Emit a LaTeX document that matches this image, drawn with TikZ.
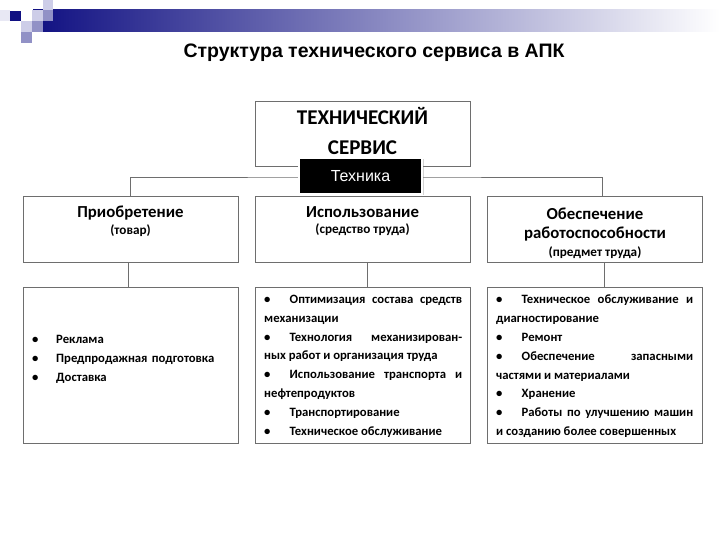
\documentclass[tikz,border=0pt]{standalone}
\usepackage{fontspec}
\setmainfont{Carlito}
\newfontfamily\arialfont{Liberation Sans}
\usetikzlibrary{positioning, shadows}

\definecolor{framegray}{RGB}{110,110,110}
\definecolor{decnavy}{RGB}{16,16,130}
\definecolor{declight}{RGB}{205,205,232}
\definecolor{decmid}{RGB}{145,145,198}
\definecolor{decpale}{RGB}{232,232,244}

\tikzset{
  boxframe/.style={draw=framegray, line width=0.8pt, minimum width=215pt, inner sep=0pt},
  headtext/.style={anchor=north, inner sep=0pt, align=center,
    font=\fontsize{16.8}{18.8}\selectfont\bfseries},
  listtext/.style={anchor=north west, inner sep=0pt, text width=198pt, align=justify,
    font=\fontsize{12.7}{18.8}\selectfont\bfseries},
  link/.style={draw=framegray, line width=0.8pt},
}
\newcommand{\bul}{\makebox[25.5pt][l]{\textbullet}}
\newcommand{\smallhead}[1]{{\fontsize{13.2}{14}\selectfont #1}}

\begin{document}
\begin{tikzpicture}[x=1pt, y=-1pt]
  \useasboundingbox (0,0) rectangle (720,540);

  % header band
  \shade[left color=decnavy, right color=white] (33,10) rectangle (720,32);
  \fill[decpale]  (0,10)  rectangle (10,21);
  \fill[decnavy]  (10,11) rectangle (21,21);
  \fill[declight] (43,0)  rectangle (53,10);
  \fill[declight] (32,10) rectangle (43,21);
  \fill[decmid]   (43,10) rectangle (53,21);
  \fill[declight] (21,21) rectangle (32,32);
  \fill[decmid]   (32,21) rectangle (43,32);
  \fill[decmid]   (21,32) rectangle (32,43);

  \node (title) at (374,53) {\arialfont\fontsize{19.5}{22}\selectfont\bfseries Структура технического сервиса в АПК};

  % boxes
  \node[boxframe, minimum height=65pt] (service) at (362.5,133.5) {};
  \node[boxframe, minimum height=66pt] (acq) at (130.5,229) {};
  \node[boxframe, minimum height=66pt] (use) at (362.5,229) {};
  \node[boxframe, minimum height=66pt] (ensure) at (595,229) {};
  \node[boxframe, minimum height=156pt] (acqlist) at (130.5,365) {};
  \node[boxframe, minimum height=156pt] (uselist) at (362.5,365) {};
  \node[boxframe, minimum height=156pt] (ensurelist) at (595,365) {};

  % headings
  \node[headtext, font=\fontsize{21}{30}\selectfont\bfseries, below=7pt of service.north] (servicetext)
    {ТЕХНИЧЕСКИЙ\\СЕРВИС};
  \node[headtext, below=10.5pt of acq.north] (acqtext) {Приобретение\\[-2.5pt]\smallhead{(товар)}};
  \node[headtext, below=10.5pt of use.north] (usetext) {Использование\\[-2.5pt]\smallhead{(средство труда)}};
  \node[headtext, below=12pt of ensure.north] (ensuretext)
    {Обеспечение\\работоспособности\\\smallhead{(предмет труда)}};

  % connectors
  \draw[link] (acq.north) |- (service.south |- 0,177) -| ([xshift=7pt]ensure.north);
  \draw[link] ([xshift=-2.5pt]acq.south) -- ([xshift=-2.5pt]acqlist.north);
  \draw[link] ([xshift=4.5pt]use.south) -- ([xshift=4.5pt]uselist.north);
  \draw[link] ([xshift=9.5pt]ensure.south) -- ([xshift=9.5pt]ensurelist.north);

  % Техника
  \node[fill=black, draw=white, line width=1.5pt, minimum width=123pt, minimum height=36pt,
    drop shadow={shadow xshift=1.5pt, shadow yshift=-1.5pt, opacity=0.35},
    text=white, font=\arialfont\fontsize{16}{18}\selectfont] (tech) at (360.5,176) {Техника};

  % lists
  \node[listtext, text width=200pt, align=left] (acqitems) at (32,335)
    {\makebox[24pt][l]{\textbullet}Реклама\\
     \makebox[24pt][l]{\textbullet}Предпродажная подготовка\\
     \makebox[24pt][l]{\textbullet}Доставка};
  \node[listtext] (useitems) at (264,295)
    {\hyphenpenalty=10000\tolerance=9999
     \bul Оптимизация состава средств\linebreak механизации\par
     \bul Технология механизирован-\linebreak ных работ и организация труда\par
     \bul Использование транспорта и\linebreak нефтепродуктов\par
     \bul Транспортирование\par
     \bul Техническое обслуживание};
  \node[listtext, text width=197pt] (ensureitems) at (496,295)
    {\hyphenpenalty=10000\tolerance=9999
     \bul Техническое обслуживание и\linebreak диагностирование\par
     \bul Ремонт\par
     \bul Обеспечение запасными\linebreak частями и материалами\par
     \bul Хранение\par
     \bul Работы по улучшению машин\linebreak и созданию более совершенных};
\end{tikzpicture}
\end{document}
